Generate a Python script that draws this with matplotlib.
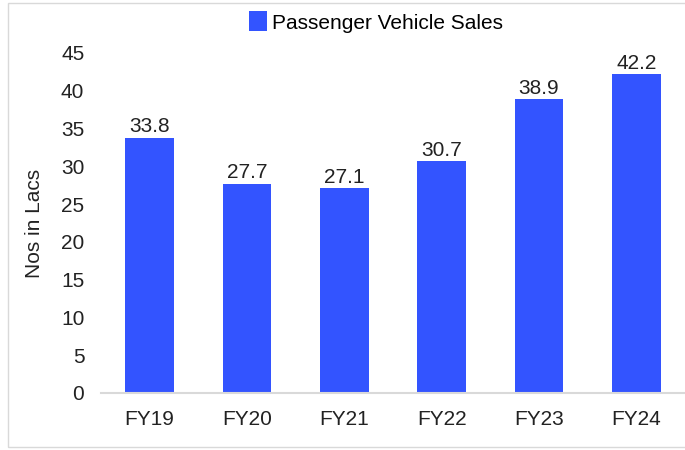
import matplotlib.pyplot as plt
from matplotlib.patches import Rectangle

years = ['FY19', 'FY20', 'FY21', 'FY22', 'FY23', 'FY24']
sales = [33.8, 27.7, 27.1, 30.7, 38.9, 42.2]

plt.rcParams['font.family'] = ['Liberation Sans', 'DejaVu Sans']

fig = plt.figure(figsize=(6.85, 4.5), dpi=100)
ax = fig.add_axes([101 / 685, 57 / 450, 584 / 685, 340 / 450])

bar_color = '#3354ff'
fs = 15
bars = ax.bar(range(len(years)), sales, width=0.5, color=bar_color,
              label='Passenger Vehicle Sales')
for b, v in zip(bars, sales):
    ax.text(b.get_x() + b.get_width() / 2, v + 0.2, f'{v:.1f}',
            ha='center', va='bottom', fontsize=fs, color='#222222')

ax.set_xlim(-0.5, 5.5)
ax.set_ylim(0, 45)
ax.set_yticks(range(0, 46, 5))
ax.set_xticks(range(len(years)))
ax.set_xticklabels(years)
ax.tick_params(axis='both', length=0, labelsize=fs, colors='#222222')
ax.tick_params(axis='x', pad=12)
ax.tick_params(axis='y', pad=12)
for s in ['top', 'right', 'left']:
    ax.spines[s].set_visible(False)
ax.spines['bottom'].set_color('#d9d9d9')
ax.spines['bottom'].set_linewidth(1.5)
ax.set_ylabel('Nos in Lacs', fontsize=fs, color='#222222', labelpad=12)

fig.legend(loc='center', bbox_to_anchor=(376 / 685, 1 - 22 / 450), frameon=False,
           fontsize=fs, handlelength=0.9, handleheight=1.1, handletextpad=0.25)

fig.patches.append(Rectangle((8 / 685, 3 / 450), 1, 444 / 450,
                             transform=fig.transFigure, fill=False,
                             edgecolor='#d9d9d9', linewidth=1))

plt.savefig('out.png', dpi=100)
plt.close()
